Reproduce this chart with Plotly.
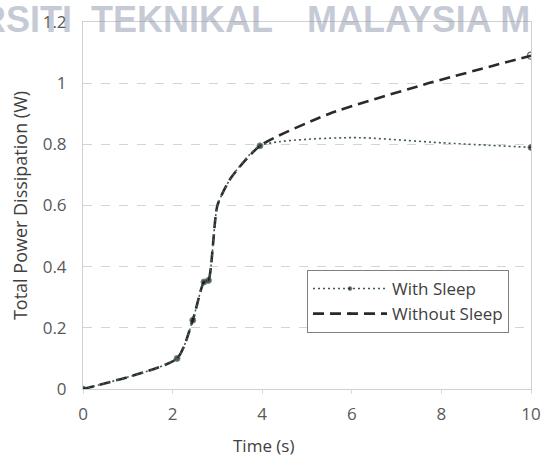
import plotly.graph_objects as go

# Data
time_common = [0, 2.1, 2.45, 2.7, 2.8, 3.0, 3.3, 3.95]
power_common = [0, 0.10, 0.225, 0.35, 0.355, 0.6, 0.69, 0.795]

time_with_tail = [6, 8, 10]
power_with_tail = [0.822, 0.805, 0.79]

time_without_tail = [5.5, 7.6, 10]
power_without_tail = [0.90, 0.995, 1.09]

marked_times = [0, 2.1, 2.45, 2.7, 2.8, 3.95, 10]

x_ticks = [0, 2, 4, 6, 8, 10]
y_ticks = [0, 0.2, 0.4, 0.6, 0.8, 1.0, 1.2]
y_tick_labels = ["0", "0.2", "0.4", "0.6", "0.8", "1", "1.2"]

tx_with = time_common + time_with_tail
py_with = power_common + power_with_tail
tx_without = time_common + time_without_tail
py_without = power_common + power_without_tail

sizes_with = [6 if t in marked_times else 0 for t in tx_with]
sizes_without = [0] * (len(tx_without) - 1) + [7]

W, H = 545, 456
win_left, win_right, win_top, win_bottom = 83, 531, 22, 389
L, T = win_left, win_top
R = W - win_right
B = H - win_bottom
pw, ph = W - L - R, H - T - B

def px_x(p):
    return (p - win_left) / pw

def px_y(p):
    return (win_bottom - p) / ph

fig = go.Figure()

fig.add_trace(go.Scatter(
    x=tx_without, y=py_without, name="Without Sleep",
    mode="lines+markers", line=dict(color="#2a2a2a", width=2.6, dash="11px,6px", shape="spline", smoothing=0.6),
    marker=dict(symbol="circle-open", size=sizes_without, color="#2a2a2a", line=dict(width=1.2)),
    legendrank=2,
))
fig.add_trace(go.Scatter(
    x=tx_with, y=py_with, name="With Sleep",
    mode="lines+markers", line=dict(color="#3d5a55", width=1.6, dash="2px,3px", shape="spline", smoothing=0.6),
    marker=dict(symbol="circle", size=sizes_with, color="#111111"),
    legendrank=1,
))

fig.update_layout(
    width=W, height=H,
    margin=dict(l=L, r=R, t=T, b=B, autoexpand=False),
    paper_bgcolor="white", plot_bgcolor="white",
    font=dict(family="Open Sans, Calibri, sans-serif", color="#595959", size=16),
    showlegend=True,
    legend=dict(
        x=px_x(307), y=px_y(270), xanchor="left", yanchor="top",
        bordercolor="#808080", borderwidth=1, bgcolor="white",
        font=dict(size=17, color="#404040"), tracegroupgap=0,
        itemwidth=74,
    ),
    xaxis=dict(
        range=[0, 10], tickvals=x_ticks, ticktext=[str(v) for v in x_ticks],
        showgrid=False, zeroline=False, showline=True, linecolor="#d0d0d0", linewidth=1,
        mirror=True, ticks="outside", ticklen=4, tickcolor="#d9d9d9",
        ticklabelstandoff=6, automargin=False,
        tickfont=dict(size=17), fixedrange=True,
    ),
    yaxis=dict(
        range=[0, 1.2], tickvals=y_ticks, ticktext=y_tick_labels,
        showgrid=True, gridcolor="#d4d4d4", griddash="dash", gridwidth=1,
        zeroline=False, showline=True, linecolor="#d0d0d0", linewidth=1, mirror=True,
        ticks="", ticklabelstandoff=12, automargin=False,
        title=dict(text="Total Power Dissipation (W)", font=dict(size=18, color="#404040"), standoff=10),
        tickfont=dict(size=17),
    ),
)

# x-axis title (offset left of the plot centre, as in the reference)
fig.add_annotation(text="Time (s)", xref="paper", yref="paper",
                   x=px_x(263), y=px_y(445), xanchor="center", yanchor="middle", showarrow=False,
                   font=dict(size=17, color="#404040"))

# watermark (partly cut off at the edges, as in the reference)
wm_font = dict(family="Liberation Sans, Arial, sans-serif", size=36, color="rgba(140,150,170,0.5)")
fig.add_annotation(text="<b>RSITI</b>", xref="paper", yref="paper",
                   x=px_x(74), y=px_y(21), xanchor="right", yanchor="middle", showarrow=False,
                   font=wm_font, yshift=2)
fig.add_annotation(text="<b>TEKNIKAL</b>", xref="paper", yref="paper",
                   x=px_x(89), y=px_y(21), xanchor="left", yanchor="middle", showarrow=False,
                   font=wm_font, yshift=2)
fig.add_annotation(text="<b>MALAYSIA M</b>", xref="paper", yref="paper",
                   x=px_x(305), y=px_y(21), xanchor="left", yanchor="middle", showarrow=False,
                   font=wm_font, yshift=2)

# remove the default page margin so the 545x456 figure fills the window exactly
fig.write_html("out.html", config={"displayModeBar": False},
               post_script="document.body.style.margin='0';document.body.style.overflow='hidden';")
